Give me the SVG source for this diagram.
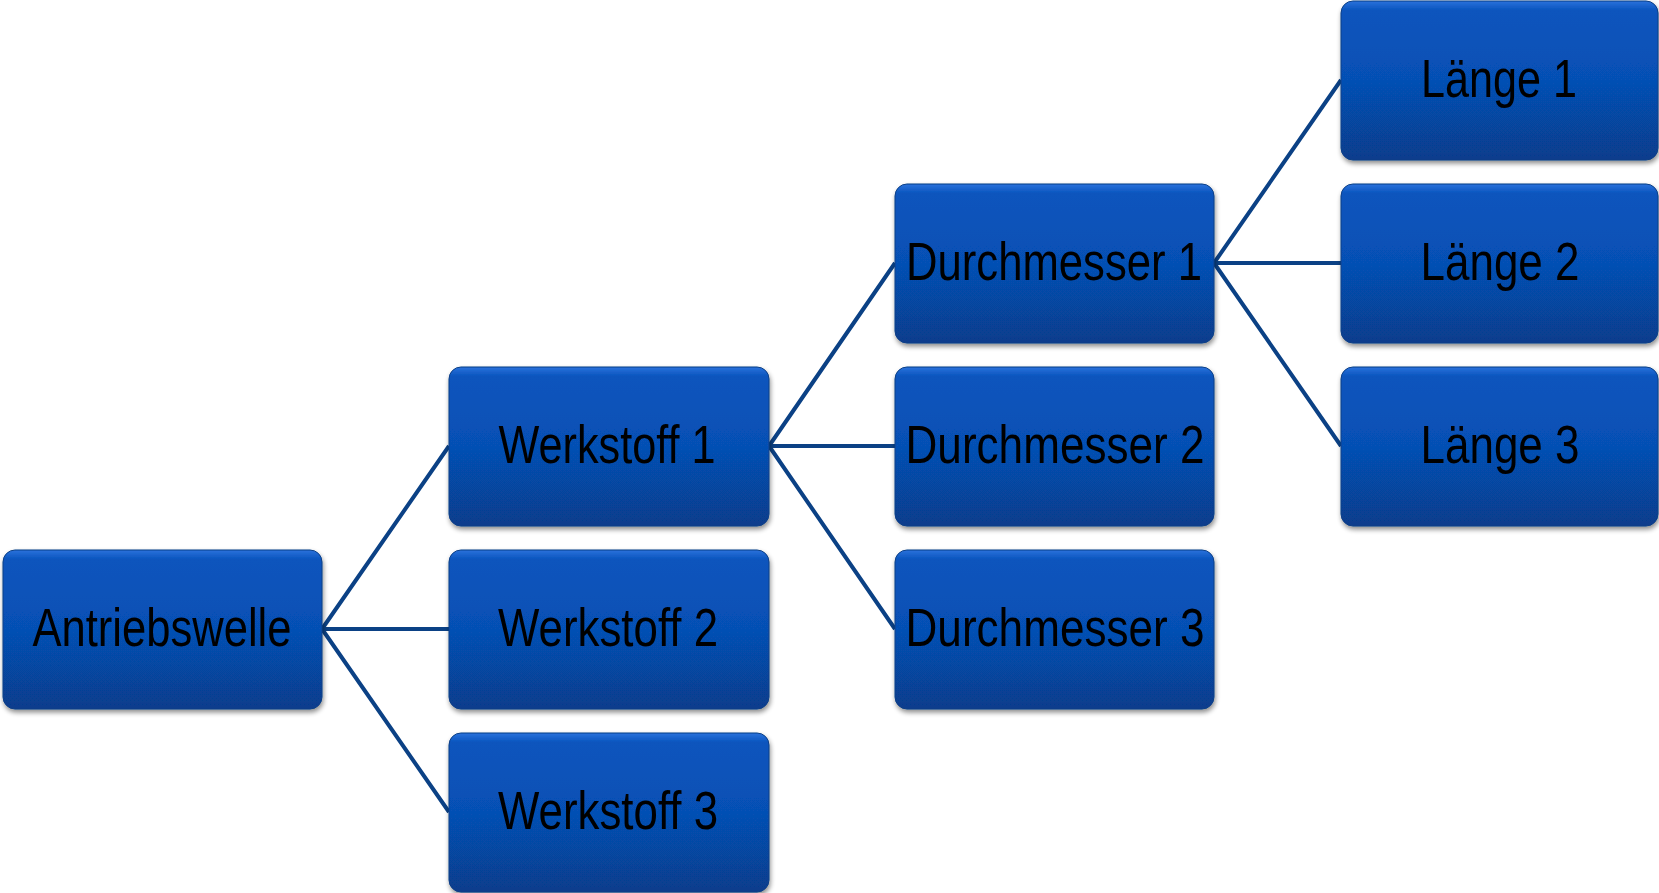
<svg xmlns="http://www.w3.org/2000/svg" width="1659" height="893" viewBox="0 0 1659 893">
<defs>
<linearGradient id="g" x1="0" y1="0" x2="0" y2="1">
<stop offset="0" stop-color="#2a72dc"/>
<stop offset="0.06" stop-color="#0a54bd"/>
<stop offset="0.5" stop-color="#0650b4"/>
<stop offset="1" stop-color="#073d8c"/>
</linearGradient>
<filter id="sh" x="-5%" y="-5%" width="112%" height="115%">
<feGaussianBlur in="SourceAlpha" stdDeviation="2.5"/>
<feOffset dx="1" dy="3" result="b"/>
<feComponentTransfer><feFuncA type="linear" slope="0.45"/></feComponentTransfer>
<feMerge><feMergeNode/><feMergeNode in="SourceGraphic"/></feMerge>
</filter>
<style>
.box{fill:url(#g);stroke:#0a3f86;stroke-width:1;filter:url(#sh)}
.t{font-family:"Liberation Sans",Arial,sans-serif;font-size:54px;fill:#000;text-anchor:middle}
.c{stroke:#0b4185;stroke-width:4;fill:none}
</style>
</defs>
<g id="connectors">
<path class="c" d="M322 629 L449 446 M322 629 L449 629 M322 629 L449 812"/>
<path class="c" d="M769 446 L895 263 M769 446 L895 446 M769 446 L895 629"/>
<path class="c" d="M1214 263 L1341 80 M1214 263 L1341 263 M1214 263 L1341 446"/>
</g>
<g id="n-antriebswelle"><rect class="box" x="3" y="550" width="319" height="159" rx="12"/><text class="t" x="162" y="646" textLength="259" lengthAdjust="spacingAndGlyphs">Antriebswelle</text></g>
<g id="n-werkstoff1"><rect class="box" x="449" y="367" width="320" height="159" rx="12"/><text class="t" x="607" y="463" textLength="217" lengthAdjust="spacingAndGlyphs">Werkstoff 1</text></g>
<g id="n-werkstoff2"><rect class="box" x="449" y="550" width="320" height="159" rx="12"/><text class="t" x="608" y="646" textLength="220" lengthAdjust="spacingAndGlyphs">Werkstoff 2</text></g>
<g id="n-werkstoff3"><rect class="box" x="449" y="733" width="320" height="159" rx="12"/><text class="t" x="608" y="829" textLength="220" lengthAdjust="spacingAndGlyphs">Werkstoff 3</text></g>
<g id="n-durchmesser1"><rect class="box" x="895" y="184" width="319" height="159" rx="12"/><text class="t" x="1054" y="280" textLength="296" lengthAdjust="spacingAndGlyphs">Durchmesser 1</text></g>
<g id="n-durchmesser2"><rect class="box" x="895" y="367" width="319" height="159" rx="12"/><text class="t" x="1055" y="463" textLength="299" lengthAdjust="spacingAndGlyphs">Durchmesser 2</text></g>
<g id="n-durchmesser3"><rect class="box" x="895" y="550" width="319" height="159" rx="12"/><text class="t" x="1055" y="646" textLength="299" lengthAdjust="spacingAndGlyphs">Durchmesser 3</text></g>
<g id="n-laenge1"><rect class="box" x="1341" y="1" width="317" height="159" rx="12"/><text class="t" x="1499" y="97" textLength="156" lengthAdjust="spacingAndGlyphs">Länge 1</text></g>
<g id="n-laenge2"><rect class="box" x="1341" y="184" width="317" height="159" rx="12"/><text class="t" x="1500" y="280" textLength="159" lengthAdjust="spacingAndGlyphs">Länge 2</text></g>
<g id="n-laenge3"><rect class="box" x="1341" y="367" width="317" height="159" rx="12"/><text class="t" x="1500" y="463" textLength="159" lengthAdjust="spacingAndGlyphs">Länge 3</text></g>
</svg>
